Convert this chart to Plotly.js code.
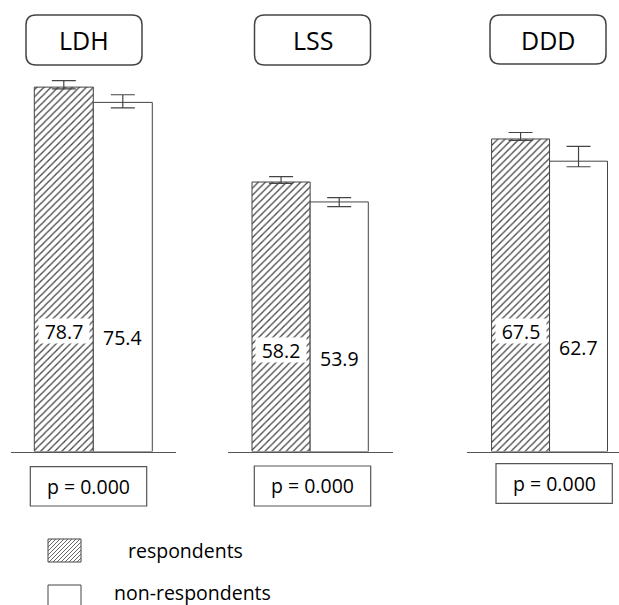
<!DOCTYPE html>
<html><head><meta charset="utf-8">
<script src="https://cdn.plot.ly/plotly-3.0.1.min.js"></script>
<style>html,body{margin:0;padding:0;background:#fff}#chart{width:619px;height:605px}</style>
</head><body><div id="chart"></div>
<script>
// ---- data ----
const groups = ['LDH', 'LSS', 'DDD'];
const seriesNames = ['respondents', 'non-respondents'];
const respondents = [78.7, 58.2, 67.5];
const nonRespondents = [75.4, 53.9, 62.7];
const respErrPlus = [1.4, 1.15, 1.4];
const respErrMinus = [0.4, 0.3, 0.3];
const nonErrPlus = [1.65, 0.95, 3.2];
const nonErrMinus = [1.2, 1.0, 1.2];
const pValues = ['0.000', '0.000', '0.000'];

// ---- layout geometry (pixels) ----
const W = 619, H = 605;
const baseline = 451.5, pxPerUnit = 4.63;
const geo = [
  {line: [11, 175.7], bars: [34.3, 152.3], title: [26, 142, 15, 65], pbox: [30.3, 146.7, 466.7, 506], lab: [331, 337]},
  {line: [228.3, 392.7], bars: [252, 368.3], title: [254.5, 370.5, 15, 65], pbox: [254.3, 370.7, 466, 506], lab: [350, 358]},
  {line: [467.3, 619], bars: [491.6, 607.5], title: [490, 606, 15, 64], pbox: [496, 612.3, 463.7, 503.3], lab: [331, 348]}
];
const px = x => x / W;
const py = y => 1 - y / H;
const FONT = '"Open Sans", "DejaVu Sans", sans-serif';
const INK = '#444';

const traces = [];
const layout = {
  width: W, height: H,
  margin: {l: 0, r: 0, t: 0, b: 0},
  paper_bgcolor: '#fff', plot_bgcolor: 'rgba(0,0,0,0)',
  showlegend: false,
  barmode: 'overlay',
  yaxis: {domain: [1 - baseline / H, 1], range: [0, baseline / pxPerUnit], visible: false, fixedrange: true},
  shapes: [], annotations: []
};

function note(xref, x, yref, y, text, size, extra) {
  return Object.assign({xref: xref, yref: yref, x: x, y: y, text: text, showarrow: false,
    xanchor: 'center', yanchor: 'middle', font: {family: FONT, size: size, color: '#000'}}, extra || {});
}

groups.forEach((g, i) => {
  const G = geo[i];
  const ax = i === 0 ? 'x' : 'x' + (i + 1);
  const axName = i === 0 ? 'xaxis' : 'xaxis' + (i + 1);
  const unit = (G.bars[1] - G.bars[0]) / 2;
  layout[axName] = {
    domain: [px(G.line[0]), px(G.line[1])],
    range: [-0.5 - (G.bars[0] - G.line[0]) / unit, 1.5 + (G.line[1] - G.bars[1]) / unit],
    type: 'category', categoryorder: 'array', categoryarray: seriesNames,
    showline: true, linecolor: '#555', linewidth: 1.5,
    showticklabels: false, ticks: '', showgrid: false, zeroline: false,
    anchor: 'y', fixedrange: true
  };
  traces.push({
    type: 'bar', xaxis: ax, yaxis: 'y', name: seriesNames[0],
    x: [seriesNames[0]], y: [respondents[i]], width: [1],
    marker: {color: '#fff', pattern: {shape: '/', fgcolor: '#444', bgcolor: '#fff', size: 5, solidity: 0.25},
      line: {color: INK, width: 1}},
    error_y: {type: 'data', symmetric: false, array: [respErrPlus[i]], arrayminus: [respErrMinus[i]],
      color: INK, thickness: 1.2, width: 12},
    hoverinfo: 'skip'
  });
  traces.push({
    type: 'bar', xaxis: ax, yaxis: 'y', name: seriesNames[1],
    x: [seriesNames[1]], y: [nonRespondents[i]], width: [1],
    marker: {color: '#fff', line: {color: INK, width: 1}},
    error_y: {type: 'data', symmetric: false, array: [nonErrPlus[i]], arrayminus: [nonErrMinus[i]],
      color: INK, thickness: 1.2, width: 12},
    hoverinfo: 'skip'
  });

  // value labels
  layout.annotations.push(note(ax, seriesNames[0], 'paper', py(G.lab[0]), String(respondents[i]), 19.5,
    {bgcolor: '#fff', width: 50, height: 24, borderpad: 0}));
  layout.annotations.push(note(ax, seriesNames[1], 'paper', py(G.lab[1]), String(nonRespondents[i]), 19.5));

  // title box (rounded)
  const [tx0, tx1, ty0, ty1] = G.title;
  const r = 10;
  const path = `M ${px(tx0 + r)},${py(ty0)} L ${px(tx1 - r)},${py(ty0)} Q ${px(tx1)},${py(ty0)} ${px(tx1)},${py(ty0 + r)} ` +
    `L ${px(tx1)},${py(ty1 - r)} Q ${px(tx1)},${py(ty1)} ${px(tx1 - r)},${py(ty1)} ` +
    `L ${px(tx0 + r)},${py(ty1)} Q ${px(tx0)},${py(ty1)} ${px(tx0)},${py(ty1 - r)} ` +
    `L ${px(tx0)},${py(ty0 + r)} Q ${px(tx0)},${py(ty0)} ${px(tx0 + r)},${py(ty0)} Z`;
  layout.shapes.push({type: 'path', xref: 'paper', yref: 'paper', path: path, line: {color: INK, width: 1.5}});
  layout.annotations.push(note('paper', px((tx0 + tx1) / 2), 'paper', py((ty0 + ty1) / 2), g, 25));

  // p-value box
  const [bx0, bx1, by0, by1] = G.pbox;
  layout.shapes.push({type: 'rect', xref: 'paper', yref: 'paper', x0: px(bx0), x1: px(bx1), y0: py(by1), y1: py(by0),
    line: {color: '#555', width: 1.2}});
  layout.annotations.push(note('paper', px((bx0 + bx1) / 2), 'paper', py((by0 + by1) / 2), 'p = ' + pValues[i], 19.5));
});

// ---- legend keys ----
const sw = {x0: 48, x1: 81, y0: 539, y1: 562};
layout.shapes.push({type: 'rect', xref: 'paper', yref: 'paper', x0: px(sw.x0), x1: px(sw.x1), y0: py(sw.y1), y1: py(sw.y0),
  line: {color: INK, width: 1}, fillcolor: '#fff'});
(function () {
  const w = sw.x1 - sw.x0, h = sw.y1 - sw.y0, step = 4;
  let d = '';
  for (let k = -h; k < w; k += step) {
    const tmin = Math.max(0, -k), tmax = Math.min(h, w - k);
    if (tmax - tmin < 0.5) continue;
    const xa = sw.x0 + k + tmin, ya = sw.y1 - tmin, xb = sw.x0 + k + tmax, yb = sw.y1 - tmax;
    d += `M ${px(xa)},${py(ya)} L ${px(xb)},${py(yb)} `;
  }
  layout.shapes.push({type: 'path', xref: 'paper', yref: 'paper', path: d, line: {color: '#555', width: 0.9}});
})();
layout.shapes.push({type: 'path', xref: 'paper', yref: 'paper',
  path: `M ${px(48)},${py(608)} L ${px(48)},${py(585)} L ${px(81)},${py(585)} L ${px(81)},${py(608)}`,
  line: {color: INK, width: 1}});
layout.annotations.push(note('paper', px(126), 'paper', py(550), seriesNames[0], 19.5, {xanchor: 'left'}));
layout.annotations.push(note('paper', px(112), 'paper', py(592), seriesNames[1], 19.5, {xanchor: 'left'}));

Plotly.newPlot('chart', traces, layout, {staticPlot: true, displayModeBar: false});
</script>
</body></html>
